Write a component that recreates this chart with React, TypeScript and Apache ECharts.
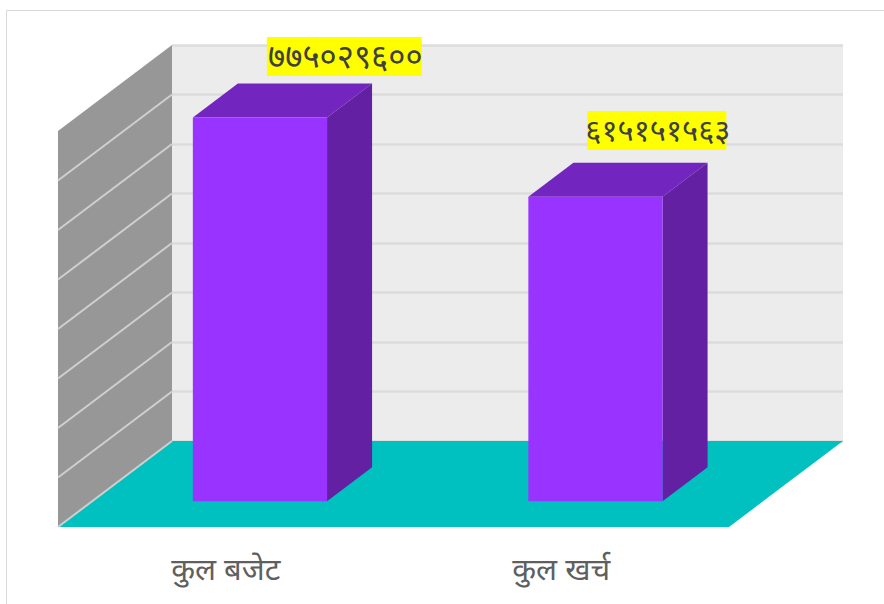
import React, { useEffect, useRef } from "react";
import * as echarts from "echarts";

const categories = ["कुल बजेट", "कुल खर्च"];
const barValues = [775029600, 615151563];
const valueLabels = ["७७५०२९६००", "६१५१५१५६३"];
const yTicks = [0, 100000000, 200000000, 300000000, 400000000, 500000000, 600000000, 700000000, 800000000];

const DEPTH_X = 114;
const DEPTH_Y = 86;
const BAR_FRONT = 0.7;
const BAR_BACK = 0.305;
const BAR_WIDTH_RATIO = 0.4;
// label box: offset from the left edge of the bar's front face, top, width and type size
const LABEL_BOXES = [
  { dx: 74, top: 37, w: 155, size: 33 },
  { dx: 59, top: 111, w: 139, size: 31 },
];
const FONT = "'Noto Sans', sans-serif";

export default function App() {
  const ref = useRef<HTMLDivElement>(null);
  useEffect(() => {
    const chart = echarts.init(ref.current!, null, { renderer: "svg" });
    chart.setOption({
      animation: false,
      backgroundColor: "#ffffff",
      graphic: [
        {
          type: "rect",
          silent: true,
          z: -10,
          shape: { x: 6.5, y: 10.5, width: 1000, height: 1000 },
          style: { fill: "none", stroke: "#d9d9d9", lineWidth: 1 },
        },
      ],
      grid: [
        { left: 172, top: 45, width: 671, height: 396, show: true, backgroundColor: "#ececec", borderWidth: 0 },
        { left: 58, top: 527, width: 671, height: 1, show: false },
      ],
      xAxis: [
        {
          type: "category",
          gridIndex: 0,
          data: categories,
          axisLine: { show: false },
          axisTick: { show: false },
          axisLabel: { show: false },
        },
        {
          type: "category",
          gridIndex: 1,
          data: categories,
          axisLine: { show: false },
          axisTick: { show: false },
          axisLabel: { color: "#5f5f5f", fontSize: 31, fontFamily: FONT, margin: 24 },
        },
      ],
      yAxis: [
        {
          type: "value",
          gridIndex: 0,
          min: 0,
          max: 800000000,
          interval: 100000000,
          axisLine: { show: false },
          axisTick: { show: false },
          axisLabel: { show: false },
          splitLine: { show: true, lineStyle: { color: "#dcdcdc", width: 2.5 } },
        },
        {
          type: "value",
          gridIndex: 1,
          show: false,
          min: 0,
          max: 1,
        },
      ],
      series: [
        {
          type: "custom",
          name: "planes",
          xAxisIndex: 0,
          yAxisIndex: 0,
          silent: true,
          z: 1,
          data: [[0, 0]],
          renderItem: (params: any) => {
            const g = params.coordSys;
            const l = g.x;
            const r = g.x + g.width;
            const t = g.y;
            const b = g.y + g.height;
            return {
              type: "group",
              children: [
                {
                  type: "polygon",
                  shape: { points: [[l - DEPTH_X, t + DEPTH_Y], [l, t], [l, b], [l - DEPTH_X, b + DEPTH_Y]] },
                  style: { fill: "#979797" },
                },
                {
                  type: "polygon",
                  shape: { points: [[l, b], [r, b], [r - DEPTH_X, b + DEPTH_Y], [l - DEPTH_X, b + DEPTH_Y]] },
                  style: { fill: "#00c0c0" },
                },
              ],
            };
          },
        },
        {
          type: "custom",
          name: "wall lines",
          xAxisIndex: 0,
          yAxisIndex: 0,
          silent: true,
          z: 2,
          data: yTicks.slice(0, -1).map((v) => [0, v]),
          renderItem: (params: any, api: any) => {
            const y = api.coord([0, api.value(1)])[1];
            const l = params.coordSys.x;
            return {
              type: "line",
              shape: { x1: l, y1: y, x2: l - DEPTH_X, y2: y + DEPTH_Y },
              style: { stroke: "#cfcfcf", lineWidth: 2 },
            };
          },
        },
        {
          type: "custom",
          name: "bars",
          xAxisIndex: 0,
          yAxisIndex: 0,
          silent: true,
          z: 3,
          data: barValues.map((v, i) => [i, v]),
          renderItem: (params: any, api: any) => {
            const i = api.value(0);
            const top = api.coord([i, api.value(1)]);
            const base = api.coord([i, 0]);
            const w = api.size([1, 0])[0] * BAR_WIDTH_RATIO;
            const fx = top[0] - DEPTH_X * BAR_FRONT - w / 2;
            const fTop = top[1] + DEPTH_Y * BAR_FRONT;
            const fBase = base[1] + DEPTH_Y * BAR_FRONT;
            const dx = DEPTH_X * (BAR_FRONT - BAR_BACK);
            const dy = DEPTH_Y * (BAR_FRONT - BAR_BACK);
            const box = LABEL_BOXES[i];
            const boxX = fx + box.dx;
            return {
              type: "group",
              children: [
                {
                  type: "polygon",
                  shape: { points: [[fx, fTop], [fx + dx, fTop - dy], [fx + w + dx, fTop - dy], [fx + w, fTop]] },
                  style: { fill: "#7326bf" },
                },
                {
                  type: "polygon",
                  shape: { points: [[fx + w, fTop], [fx + w + dx, fTop - dy], [fx + w + dx, fBase - dy], [fx + w, fBase]] },
                  style: { fill: "#6320a3" },
                },
                {
                  type: "rect",
                  shape: { x: fx, y: fTop, width: w, height: fBase - fTop },
                  style: { fill: "#9933ff" },
                },
                {
                  type: "rect",
                  shape: { x: boxX, y: box.top, width: box.w, height: 39 },
                  style: { fill: "#ffff00" },
                },
                {
                  type: "text",
                  style: {
                    x: boxX + box.w / 2 + 1,
                    y: box.top + 18,
                    text: valueLabels[i],
                    fill: "#404040",
                    font: `normal ${box.size}px ${FONT}`,
                    align: "center",
                    verticalAlign: "middle",
                  },
                },
              ],
            };
          },
        },
      ],
    });
    return () => chart.dispose();
  }, []);
  return <div ref={ref} style={{ position: "fixed", left: 0, top: 0, width: 884, height: 604 }} />;
}
